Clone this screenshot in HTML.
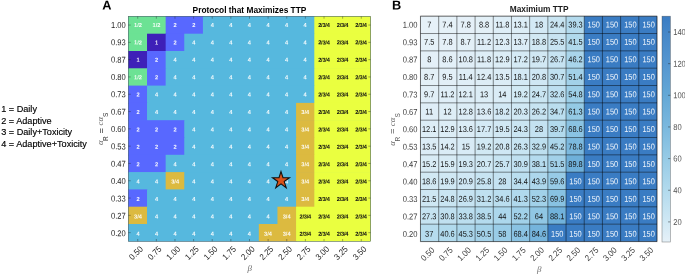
<!DOCTYPE html>
<html><head><meta charset="utf-8"><title>Figure</title>
<style>
html,body{margin:0;padding:0;background:#fff}
svg{display:block}
text{font-family:"Liberation Sans",Arial,sans-serif}
</style></head><body>
<svg width="685" height="274" viewBox="0 0 685 274">
<rect width="685" height="274" fill="#fff"/>
<g>
<rect x="128.4" y="16.4" width="242.2" height="224.9" fill="#56B8DE"/>
<rect x="128.4" y="16.4" width="37.86" height="17.9" fill="#6CE294"/>
<rect x="165.66" y="16.4" width="37.86" height="17.9" fill="#5868FF"/>
<rect x="202.92" y="16.4" width="111.98" height="17.9" fill="#56B8DE"/>
<rect x="314.3" y="16.4" width="56.3" height="17.9" fill="#EAFF40"/>
<rect x="128.4" y="33.7" width="19.23" height="17.9" fill="#6CE294"/>
<rect x="147.03" y="33.7" width="19.23" height="17.9" fill="#3E20B8"/>
<rect x="165.66" y="33.7" width="19.23" height="17.9" fill="#5868FF"/>
<rect x="184.29" y="33.7" width="130.61" height="17.9" fill="#56B8DE"/>
<rect x="314.3" y="33.7" width="56.3" height="17.9" fill="#EAFF40"/>
<rect x="128.4" y="51" width="19.23" height="17.9" fill="#3E20B8"/>
<rect x="147.03" y="51" width="19.23" height="17.9" fill="#5868FF"/>
<rect x="165.66" y="51" width="149.24" height="17.9" fill="#56B8DE"/>
<rect x="314.3" y="51" width="56.3" height="17.9" fill="#EAFF40"/>
<rect x="128.4" y="68.3" width="19.23" height="17.9" fill="#6CE294"/>
<rect x="147.03" y="68.3" width="19.23" height="17.9" fill="#5868FF"/>
<rect x="165.66" y="68.3" width="149.24" height="17.9" fill="#56B8DE"/>
<rect x="314.3" y="68.3" width="56.3" height="17.9" fill="#EAFF40"/>
<rect x="128.4" y="85.6" width="19.23" height="17.9" fill="#5868FF"/>
<rect x="147.03" y="85.6" width="167.87" height="17.9" fill="#56B8DE"/>
<rect x="314.3" y="85.6" width="56.3" height="17.9" fill="#EAFF40"/>
<rect x="128.4" y="102.9" width="19.23" height="17.9" fill="#5868FF"/>
<rect x="147.03" y="102.9" width="149.65" height="17.9" fill="#56B8DE"/>
<rect x="296.08" y="102.9" width="18.82" height="17.9" fill="#DCBA40"/>
<rect x="314.3" y="102.9" width="56.3" height="17.9" fill="#EAFF40"/>
<rect x="128.4" y="120.2" width="56.49" height="17.9" fill="#5868FF"/>
<rect x="184.29" y="120.2" width="112.38" height="17.9" fill="#56B8DE"/>
<rect x="296.08" y="120.2" width="18.82" height="17.9" fill="#DCBA40"/>
<rect x="314.3" y="120.2" width="56.3" height="17.9" fill="#EAFF40"/>
<rect x="128.4" y="137.5" width="56.49" height="17.9" fill="#5868FF"/>
<rect x="184.29" y="137.5" width="112.38" height="17.9" fill="#56B8DE"/>
<rect x="296.08" y="137.5" width="18.82" height="17.9" fill="#DCBA40"/>
<rect x="314.3" y="137.5" width="56.3" height="17.9" fill="#EAFF40"/>
<rect x="128.4" y="154.8" width="37.86" height="17.9" fill="#5868FF"/>
<rect x="165.66" y="154.8" width="131.02" height="17.9" fill="#56B8DE"/>
<rect x="296.08" y="154.8" width="18.82" height="17.9" fill="#DCBA40"/>
<rect x="314.3" y="154.8" width="56.3" height="17.9" fill="#EAFF40"/>
<rect x="128.4" y="172.1" width="37.86" height="17.9" fill="#56B8DE"/>
<rect x="165.66" y="172.1" width="19.23" height="17.9" fill="#DCBA40"/>
<rect x="184.29" y="172.1" width="112.38" height="17.9" fill="#56B8DE"/>
<rect x="296.08" y="172.1" width="18.82" height="17.9" fill="#DCBA40"/>
<rect x="314.3" y="172.1" width="56.3" height="17.9" fill="#EAFF40"/>
<rect x="128.4" y="189.4" width="19.23" height="17.9" fill="#5868FF"/>
<rect x="147.03" y="189.4" width="149.65" height="17.9" fill="#56B8DE"/>
<rect x="296.08" y="189.4" width="18.82" height="17.9" fill="#DCBA40"/>
<rect x="314.3" y="189.4" width="56.3" height="17.9" fill="#EAFF40"/>
<rect x="128.4" y="206.7" width="19.23" height="17.9" fill="#DCBA40"/>
<rect x="147.03" y="206.7" width="131.02" height="17.9" fill="#56B8DE"/>
<rect x="277.45" y="206.7" width="19.23" height="17.9" fill="#DCBA40"/>
<rect x="296.08" y="206.7" width="74.52" height="17.9" fill="#EAFF40"/>
<rect x="128.4" y="224" width="131.02" height="17.3" fill="#56B8DE"/>
<rect x="258.82" y="224" width="37.86" height="17.3" fill="#DCBA40"/>
<rect x="296.08" y="224" width="74.52" height="17.3" fill="#EAFF40"/>
</g>
<rect x="128.4" y="16.4" width="242.2" height="224.9" fill="none" stroke="#262626" stroke-opacity="0.75" stroke-width="0.5"/>
<g stroke="#262626" stroke-opacity="0.8" stroke-width="0.5">
<path d="M137.72 241.3v-2.3M137.72 16.4v2.3M128.4 25.05h2.3M370.6 25.05h-2.3"/>
<path d="M156.35 241.3v-2.3M156.35 16.4v2.3M128.4 42.35h2.3M370.6 42.35h-2.3"/>
<path d="M174.98 241.3v-2.3M174.98 16.4v2.3M128.4 59.65h2.3M370.6 59.65h-2.3"/>
<path d="M193.61 241.3v-2.3M193.61 16.4v2.3M128.4 76.95h2.3M370.6 76.95h-2.3"/>
<path d="M212.24 241.3v-2.3M212.24 16.4v2.3M128.4 94.25h2.3M370.6 94.25h-2.3"/>
<path d="M230.87 241.3v-2.3M230.87 16.4v2.3M128.4 111.55h2.3M370.6 111.55h-2.3"/>
<path d="M249.5 241.3v-2.3M249.5 16.4v2.3M128.4 128.85h2.3M370.6 128.85h-2.3"/>
<path d="M268.13 241.3v-2.3M268.13 16.4v2.3M128.4 146.15h2.3M370.6 146.15h-2.3"/>
<path d="M286.76 241.3v-2.3M286.76 16.4v2.3M128.4 163.45h2.3M370.6 163.45h-2.3"/>
<path d="M305.39 241.3v-2.3M305.39 16.4v2.3M128.4 180.75h2.3M370.6 180.75h-2.3"/>
<path d="M324.02 241.3v-2.3M324.02 16.4v2.3M128.4 198.05h2.3M370.6 198.05h-2.3"/>
<path d="M342.65 241.3v-2.3M342.65 16.4v2.3M128.4 215.35h2.3M370.6 215.35h-2.3"/>
<path d="M361.28 241.3v-2.3M361.28 16.4v2.3M128.4 232.65h2.3M370.6 232.65h-2.3"/>
</g>
<g font-size="5.7" font-weight="bold" text-anchor="middle" fill="#fff" fill-opacity="0.92">
<text transform="translate(138 26.98) rotate(0.1)">1/2</text>
<text transform="translate(156.57 26.98) rotate(0.1)">1/2</text>
<text transform="translate(175.15 26.98) rotate(0.1)">2</text>
<text transform="translate(193.72 26.98) rotate(0.1)">2</text>
<text transform="translate(212.3 26.98) rotate(0.1)">4</text>
<text transform="translate(230.88 26.98) rotate(0.1)">4</text>
<text transform="translate(249.45 26.98) rotate(0.1)">4</text>
<text transform="translate(268.02 26.98) rotate(0.1)">4</text>
<text transform="translate(286.6 26.98) rotate(0.1)">4</text>
<text transform="translate(305.17 26.98) rotate(0.1)">4</text>
<text transform="translate(323.85 26.98) rotate(0.1)" fill="#111" fill-opacity="1" letter-spacing="-0.25">2/3/4</text>
<text transform="translate(342.43 26.98) rotate(0.1)" fill="#111" fill-opacity="1" letter-spacing="-0.25">2/3/4</text>
<text transform="translate(361 26.98) rotate(0.1)" fill="#111" fill-opacity="1" letter-spacing="-0.25">2/3/4</text>
<text transform="translate(138 44.38) rotate(0.1)">1/2</text>
<text transform="translate(156.57 44.38) rotate(0.1)">1</text>
<text transform="translate(175.15 44.38) rotate(0.1)">2</text>
<text transform="translate(193.72 44.38) rotate(0.1)">4</text>
<text transform="translate(212.3 44.38) rotate(0.1)">4</text>
<text transform="translate(230.88 44.38) rotate(0.1)">4</text>
<text transform="translate(249.45 44.38) rotate(0.1)">4</text>
<text transform="translate(268.02 44.38) rotate(0.1)">4</text>
<text transform="translate(286.6 44.38) rotate(0.1)">4</text>
<text transform="translate(305.17 44.38) rotate(0.1)">4</text>
<text transform="translate(323.85 44.38) rotate(0.1)" fill="#111" fill-opacity="1" letter-spacing="-0.25">2/3/4</text>
<text transform="translate(342.43 44.38) rotate(0.1)" fill="#111" fill-opacity="1" letter-spacing="-0.25">2/3/4</text>
<text transform="translate(361 44.38) rotate(0.1)" fill="#111" fill-opacity="1" letter-spacing="-0.25">2/3/4</text>
<text transform="translate(138 61.79) rotate(0.1)">1</text>
<text transform="translate(156.57 61.79) rotate(0.1)">2</text>
<text transform="translate(175.15 61.79) rotate(0.1)">4</text>
<text transform="translate(193.72 61.79) rotate(0.1)">4</text>
<text transform="translate(212.3 61.79) rotate(0.1)">4</text>
<text transform="translate(230.88 61.79) rotate(0.1)">4</text>
<text transform="translate(249.45 61.79) rotate(0.1)">4</text>
<text transform="translate(268.02 61.79) rotate(0.1)">4</text>
<text transform="translate(286.6 61.79) rotate(0.1)">4</text>
<text transform="translate(305.17 61.79) rotate(0.1)">4</text>
<text transform="translate(323.85 61.79) rotate(0.1)" fill="#111" fill-opacity="1" letter-spacing="-0.25">2/3/4</text>
<text transform="translate(342.43 61.79) rotate(0.1)" fill="#111" fill-opacity="1" letter-spacing="-0.25">2/3/4</text>
<text transform="translate(361 61.79) rotate(0.1)" fill="#111" fill-opacity="1" letter-spacing="-0.25">2/3/4</text>
<text transform="translate(138 79.2) rotate(0.1)">1/2</text>
<text transform="translate(156.57 79.2) rotate(0.1)">2</text>
<text transform="translate(175.15 79.2) rotate(0.1)">4</text>
<text transform="translate(193.72 79.2) rotate(0.1)">4</text>
<text transform="translate(212.3 79.2) rotate(0.1)">4</text>
<text transform="translate(230.88 79.2) rotate(0.1)">4</text>
<text transform="translate(249.45 79.2) rotate(0.1)">4</text>
<text transform="translate(268.02 79.2) rotate(0.1)">4</text>
<text transform="translate(286.6 79.2) rotate(0.1)">4</text>
<text transform="translate(305.17 79.2) rotate(0.1)">4</text>
<text transform="translate(323.85 79.2) rotate(0.1)" fill="#111" fill-opacity="1" letter-spacing="-0.25">2/3/4</text>
<text transform="translate(342.43 79.2) rotate(0.1)" fill="#111" fill-opacity="1" letter-spacing="-0.25">2/3/4</text>
<text transform="translate(361 79.2) rotate(0.1)" fill="#111" fill-opacity="1" letter-spacing="-0.25">2/3/4</text>
<text transform="translate(138 96.6) rotate(0.1)">2</text>
<text transform="translate(156.57 96.6) rotate(0.1)">4</text>
<text transform="translate(175.15 96.6) rotate(0.1)">4</text>
<text transform="translate(193.72 96.6) rotate(0.1)">4</text>
<text transform="translate(212.3 96.6) rotate(0.1)">4</text>
<text transform="translate(230.88 96.6) rotate(0.1)">4</text>
<text transform="translate(249.45 96.6) rotate(0.1)">4</text>
<text transform="translate(268.02 96.6) rotate(0.1)">4</text>
<text transform="translate(286.6 96.6) rotate(0.1)">4</text>
<text transform="translate(305.17 96.6) rotate(0.1)">4</text>
<text transform="translate(323.85 96.6) rotate(0.1)" fill="#111" fill-opacity="1" letter-spacing="-0.25">2/3/4</text>
<text transform="translate(342.43 96.6) rotate(0.1)" fill="#111" fill-opacity="1" letter-spacing="-0.25">2/3/4</text>
<text transform="translate(361 96.6) rotate(0.1)" fill="#111" fill-opacity="1" letter-spacing="-0.25">2/3/4</text>
<text transform="translate(138 114.01) rotate(0.1)">2</text>
<text transform="translate(156.57 114.01) rotate(0.1)">4</text>
<text transform="translate(175.15 114.01) rotate(0.1)">4</text>
<text transform="translate(193.72 114.01) rotate(0.1)">4</text>
<text transform="translate(212.3 114.01) rotate(0.1)">4</text>
<text transform="translate(230.88 114.01) rotate(0.1)">4</text>
<text transform="translate(249.45 114.01) rotate(0.1)">4</text>
<text transform="translate(268.02 114.01) rotate(0.1)">4</text>
<text transform="translate(286.6 114.01) rotate(0.1)">4</text>
<text transform="translate(305.17 114.01) rotate(0.1)">3/4</text>
<text transform="translate(323.85 114.01) rotate(0.1)" fill="#111" fill-opacity="1" letter-spacing="-0.25">2/3/4</text>
<text transform="translate(342.43 114.01) rotate(0.1)" fill="#111" fill-opacity="1" letter-spacing="-0.25">2/3/4</text>
<text transform="translate(361 114.01) rotate(0.1)" fill="#111" fill-opacity="1" letter-spacing="-0.25">2/3/4</text>
<text transform="translate(138 131.41) rotate(0.1)">2</text>
<text transform="translate(156.57 131.41) rotate(0.1)">2</text>
<text transform="translate(175.15 131.41) rotate(0.1)">2</text>
<text transform="translate(193.72 131.41) rotate(0.1)">4</text>
<text transform="translate(212.3 131.41) rotate(0.1)">4</text>
<text transform="translate(230.88 131.41) rotate(0.1)">4</text>
<text transform="translate(249.45 131.41) rotate(0.1)">4</text>
<text transform="translate(268.02 131.41) rotate(0.1)">4</text>
<text transform="translate(286.6 131.41) rotate(0.1)">4</text>
<text transform="translate(305.17 131.41) rotate(0.1)">3/4</text>
<text transform="translate(323.85 131.41) rotate(0.1)" fill="#111" fill-opacity="1" letter-spacing="-0.25">2/3/4</text>
<text transform="translate(342.43 131.41) rotate(0.1)" fill="#111" fill-opacity="1" letter-spacing="-0.25">2/3/4</text>
<text transform="translate(361 131.41) rotate(0.1)" fill="#111" fill-opacity="1" letter-spacing="-0.25">2/3/4</text>
<text transform="translate(138 148.81) rotate(0.1)">2</text>
<text transform="translate(156.57 148.81) rotate(0.1)">2</text>
<text transform="translate(175.15 148.81) rotate(0.1)">2</text>
<text transform="translate(193.72 148.81) rotate(0.1)">4</text>
<text transform="translate(212.3 148.81) rotate(0.1)">4</text>
<text transform="translate(230.88 148.81) rotate(0.1)">4</text>
<text transform="translate(249.45 148.81) rotate(0.1)">4</text>
<text transform="translate(268.02 148.81) rotate(0.1)">4</text>
<text transform="translate(286.6 148.81) rotate(0.1)">4</text>
<text transform="translate(305.17 148.81) rotate(0.1)">3/4</text>
<text transform="translate(323.85 148.81) rotate(0.1)" fill="#111" fill-opacity="1" letter-spacing="-0.25">2/3/4</text>
<text transform="translate(342.43 148.81) rotate(0.1)" fill="#111" fill-opacity="1" letter-spacing="-0.25">2/3/4</text>
<text transform="translate(361 148.81) rotate(0.1)" fill="#111" fill-opacity="1" letter-spacing="-0.25">2/3/4</text>
<text transform="translate(138 166.22) rotate(0.1)">2</text>
<text transform="translate(156.57 166.22) rotate(0.1)">2</text>
<text transform="translate(175.15 166.22) rotate(0.1)">4</text>
<text transform="translate(193.72 166.22) rotate(0.1)">4</text>
<text transform="translate(212.3 166.22) rotate(0.1)">4</text>
<text transform="translate(230.88 166.22) rotate(0.1)">4</text>
<text transform="translate(249.45 166.22) rotate(0.1)">4</text>
<text transform="translate(268.02 166.22) rotate(0.1)">4</text>
<text transform="translate(286.6 166.22) rotate(0.1)">4</text>
<text transform="translate(305.17 166.22) rotate(0.1)">3/4</text>
<text transform="translate(323.85 166.22) rotate(0.1)" fill="#111" fill-opacity="1" letter-spacing="-0.25">2/3/4</text>
<text transform="translate(342.43 166.22) rotate(0.1)" fill="#111" fill-opacity="1" letter-spacing="-0.25">2/3/4</text>
<text transform="translate(361 166.22) rotate(0.1)" fill="#111" fill-opacity="1" letter-spacing="-0.25">2/3/4</text>
<text transform="translate(138 183.62) rotate(0.1)">4</text>
<text transform="translate(156.57 183.62) rotate(0.1)">4</text>
<text transform="translate(175.15 183.62) rotate(0.1)">3/4</text>
<text transform="translate(193.72 183.62) rotate(0.1)">4</text>
<text transform="translate(212.3 183.62) rotate(0.1)">4</text>
<text transform="translate(230.88 183.62) rotate(0.1)">4</text>
<text transform="translate(249.45 183.62) rotate(0.1)">4</text>
<text transform="translate(268.02 183.62) rotate(0.1)">4</text>
<text transform="translate(286.6 183.62) rotate(0.1)">4</text>
<text transform="translate(305.17 183.62) rotate(0.1)">3/4</text>
<text transform="translate(323.85 183.62) rotate(0.1)" fill="#111" fill-opacity="1" letter-spacing="-0.25">2/3/4</text>
<text transform="translate(342.43 183.62) rotate(0.1)" fill="#111" fill-opacity="1" letter-spacing="-0.25">2/3/4</text>
<text transform="translate(361 183.62) rotate(0.1)" fill="#111" fill-opacity="1" letter-spacing="-0.25">2/3/4</text>
<text transform="translate(138 201.03) rotate(0.1)">2</text>
<text transform="translate(156.57 201.03) rotate(0.1)">4</text>
<text transform="translate(175.15 201.03) rotate(0.1)">4</text>
<text transform="translate(193.72 201.03) rotate(0.1)">4</text>
<text transform="translate(212.3 201.03) rotate(0.1)">4</text>
<text transform="translate(230.88 201.03) rotate(0.1)">4</text>
<text transform="translate(249.45 201.03) rotate(0.1)">4</text>
<text transform="translate(268.02 201.03) rotate(0.1)">4</text>
<text transform="translate(286.6 201.03) rotate(0.1)">4</text>
<text transform="translate(305.17 201.03) rotate(0.1)">3/4</text>
<text transform="translate(323.85 201.03) rotate(0.1)" fill="#111" fill-opacity="1" letter-spacing="-0.25">2/3/4</text>
<text transform="translate(342.43 201.03) rotate(0.1)" fill="#111" fill-opacity="1" letter-spacing="-0.25">2/3/4</text>
<text transform="translate(361 201.03) rotate(0.1)" fill="#111" fill-opacity="1" letter-spacing="-0.25">2/3/4</text>
<text transform="translate(138 218.44) rotate(0.1)">3/4</text>
<text transform="translate(156.57 218.44) rotate(0.1)">4</text>
<text transform="translate(175.15 218.44) rotate(0.1)">4</text>
<text transform="translate(193.72 218.44) rotate(0.1)">4</text>
<text transform="translate(212.3 218.44) rotate(0.1)">4</text>
<text transform="translate(230.88 218.44) rotate(0.1)">4</text>
<text transform="translate(249.45 218.44) rotate(0.1)">4</text>
<text transform="translate(268.02 218.44) rotate(0.1)">4</text>
<text transform="translate(286.6 218.44) rotate(0.1)">3/4</text>
<text transform="translate(305.27 218.44) rotate(0.1)" fill="#111" fill-opacity="1" letter-spacing="-0.25">2/3/4</text>
<text transform="translate(323.85 218.44) rotate(0.1)" fill="#111" fill-opacity="1" letter-spacing="-0.25">2/3/4</text>
<text transform="translate(342.43 218.44) rotate(0.1)" fill="#111" fill-opacity="1" letter-spacing="-0.25">2/3/4</text>
<text transform="translate(361 218.44) rotate(0.1)" fill="#111" fill-opacity="1" letter-spacing="-0.25">2/3/4</text>
<text transform="translate(138 235.84) rotate(0.1)">4</text>
<text transform="translate(156.57 235.84) rotate(0.1)">4</text>
<text transform="translate(175.15 235.84) rotate(0.1)">4</text>
<text transform="translate(193.72 235.84) rotate(0.1)">4</text>
<text transform="translate(212.3 235.84) rotate(0.1)">4</text>
<text transform="translate(230.88 235.84) rotate(0.1)">4</text>
<text transform="translate(249.45 235.84) rotate(0.1)">4</text>
<text transform="translate(268.02 235.84) rotate(0.1)">3/4</text>
<text transform="translate(286.6 235.84) rotate(0.1)">3/4</text>
<text transform="translate(305.27 235.84) rotate(0.1)" fill="#111" fill-opacity="1" letter-spacing="-0.25">2/3/4</text>
<text transform="translate(323.85 235.84) rotate(0.1)" fill="#111" fill-opacity="1" letter-spacing="-0.25">2/3/4</text>
<text transform="translate(342.43 235.84) rotate(0.1)" fill="#111" fill-opacity="1" letter-spacing="-0.25">2/3/4</text>
<text transform="translate(361 235.84) rotate(0.1)" fill="#111" fill-opacity="1" letter-spacing="-0.25">2/3/4</text>
</g>
<polygon points="281,171.6 283,177.75 289.46,177.75 284.23,181.55 286.23,187.7 281,183.9 275.77,187.7 277.77,181.55 272.54,177.75 279,177.75" fill="#D8521B" stroke="#111" stroke-width="1.1" stroke-linejoin="miter"/>
<g>
<rect x="420.5" y="16.2" width="18.79" height="17.93" fill="#e6f1f8"/>
<rect x="438.69" y="16.2" width="18.79" height="17.93" fill="#e5f1f8"/>
<rect x="456.88" y="16.2" width="18.79" height="17.93" fill="#e5f0f8"/>
<rect x="475.08" y="16.2" width="18.79" height="17.93" fill="#e3f0f7"/>
<rect x="493.27" y="16.2" width="18.79" height="17.93" fill="#deeef7"/>
<rect x="511.46" y="16.2" width="18.79" height="17.93" fill="#dcedf6"/>
<rect x="529.65" y="16.2" width="18.79" height="17.93" fill="#d3e9f5"/>
<rect x="547.85" y="16.2" width="18.79" height="17.93" fill="#c9e5f2"/>
<rect x="566.04" y="16.2" width="18.79" height="17.93" fill="#b3daed"/>
<rect x="584.23" y="16.2" width="72.77" height="17.93" fill="#3a7cc3"/>
<rect x="420.5" y="33.53" width="18.79" height="17.93" fill="#e5f1f8"/>
<rect x="438.69" y="33.53" width="18.79" height="17.93" fill="#e5f0f8"/>
<rect x="456.88" y="33.53" width="18.79" height="17.93" fill="#e3f0f7"/>
<rect x="475.08" y="33.53" width="18.79" height="17.93" fill="#dfeef7"/>
<rect x="493.27" y="33.53" width="18.79" height="17.93" fill="#ddedf6"/>
<rect x="511.46" y="33.53" width="18.79" height="17.93" fill="#dbecf6"/>
<rect x="529.65" y="33.53" width="18.79" height="17.93" fill="#d2e9f4"/>
<rect x="547.85" y="33.53" width="18.79" height="17.93" fill="#c8e4f2"/>
<rect x="566.04" y="33.53" width="18.79" height="17.93" fill="#b0d9ec"/>
<rect x="584.23" y="33.53" width="72.77" height="17.93" fill="#3a7cc3"/>
<rect x="420.5" y="50.86" width="18.79" height="17.93" fill="#e4f0f8"/>
<rect x="438.69" y="50.86" width="18.79" height="17.93" fill="#e3f0f8"/>
<rect x="456.88" y="50.86" width="18.79" height="17.93" fill="#e0eef7"/>
<rect x="475.08" y="50.86" width="18.79" height="17.93" fill="#deeef7"/>
<rect x="493.27" y="50.86" width="18.79" height="17.93" fill="#dcedf6"/>
<rect x="511.46" y="50.86" width="18.79" height="17.93" fill="#d5eaf5"/>
<rect x="529.65" y="50.86" width="18.79" height="17.93" fill="#d1e8f4"/>
<rect x="547.85" y="50.86" width="18.79" height="17.93" fill="#c6e3f2"/>
<rect x="566.04" y="50.86" width="18.79" height="17.93" fill="#a9d5eb"/>
<rect x="584.23" y="50.86" width="72.77" height="17.93" fill="#3a7cc3"/>
<rect x="420.5" y="68.19" width="18.79" height="17.93" fill="#e3f0f7"/>
<rect x="438.69" y="68.19" width="18.79" height="17.93" fill="#e2eff7"/>
<rect x="456.88" y="68.19" width="18.79" height="17.93" fill="#dfeef7"/>
<rect x="475.08" y="68.19" width="18.79" height="17.93" fill="#ddedf6"/>
<rect x="493.27" y="68.19" width="18.79" height="17.93" fill="#dbecf6"/>
<rect x="511.46" y="68.19" width="18.79" height="17.93" fill="#d3e9f5"/>
<rect x="529.65" y="68.19" width="18.79" height="17.93" fill="#cfe7f4"/>
<rect x="547.85" y="68.19" width="18.79" height="17.93" fill="#c0e1f0"/>
<rect x="566.04" y="68.19" width="18.79" height="17.93" fill="#a2d1e9"/>
<rect x="584.23" y="68.19" width="72.77" height="17.93" fill="#3a7cc3"/>
<rect x="420.5" y="85.52" width="18.79" height="17.93" fill="#e1eff7"/>
<rect x="438.69" y="85.52" width="18.79" height="17.93" fill="#dfeef7"/>
<rect x="456.88" y="85.52" width="18.79" height="17.93" fill="#ddedf6"/>
<rect x="475.08" y="85.52" width="18.79" height="17.93" fill="#dcedf6"/>
<rect x="493.27" y="85.52" width="18.79" height="17.93" fill="#daecf6"/>
<rect x="511.46" y="85.52" width="18.79" height="17.93" fill="#d1e9f4"/>
<rect x="529.65" y="85.52" width="18.79" height="17.93" fill="#c9e5f2"/>
<rect x="547.85" y="85.52" width="18.79" height="17.93" fill="#bddff0"/>
<rect x="566.04" y="85.52" width="18.79" height="17.93" fill="#9dcfe8"/>
<rect x="584.23" y="85.52" width="72.77" height="17.93" fill="#3a7cc3"/>
<rect x="420.5" y="102.85" width="18.79" height="17.93" fill="#dfeef7"/>
<rect x="438.69" y="102.85" width="18.79" height="17.93" fill="#deeef6"/>
<rect x="456.88" y="102.85" width="18.79" height="17.93" fill="#dcedf6"/>
<rect x="475.08" y="102.85" width="18.79" height="17.93" fill="#dbecf6"/>
<rect x="493.27" y="102.85" width="18.79" height="17.93" fill="#d3e9f5"/>
<rect x="511.46" y="102.85" width="18.79" height="17.93" fill="#d0e8f4"/>
<rect x="529.65" y="102.85" width="18.79" height="17.93" fill="#c7e4f2"/>
<rect x="547.85" y="102.85" width="18.79" height="17.93" fill="#badeef"/>
<rect x="566.04" y="102.85" width="18.79" height="17.93" fill="#94cae5"/>
<rect x="584.23" y="102.85" width="72.77" height="17.93" fill="#3a7cc3"/>
<rect x="420.5" y="120.18" width="18.79" height="17.93" fill="#ddedf6"/>
<rect x="438.69" y="120.18" width="18.79" height="17.93" fill="#dcedf6"/>
<rect x="456.88" y="120.18" width="18.79" height="17.93" fill="#dbecf6"/>
<rect x="475.08" y="120.18" width="18.79" height="17.93" fill="#d4eaf5"/>
<rect x="493.27" y="120.18" width="18.79" height="17.93" fill="#d1e8f4"/>
<rect x="511.46" y="120.18" width="18.79" height="17.93" fill="#cae5f2"/>
<rect x="529.65" y="120.18" width="18.79" height="17.93" fill="#c4e2f1"/>
<rect x="547.85" y="120.18" width="18.79" height="17.93" fill="#b2daed"/>
<rect x="566.04" y="120.18" width="18.79" height="17.93" fill="#8ac3e3"/>
<rect x="584.23" y="120.18" width="72.77" height="17.93" fill="#3a7cc3"/>
<rect x="420.5" y="137.52" width="18.79" height="17.93" fill="#dbecf6"/>
<rect x="438.69" y="137.52" width="18.79" height="17.93" fill="#daecf6"/>
<rect x="456.88" y="137.52" width="18.79" height="17.93" fill="#d8ebf6"/>
<rect x="475.08" y="137.52" width="18.79" height="17.93" fill="#d1e9f4"/>
<rect x="493.27" y="137.52" width="18.79" height="17.93" fill="#cfe7f4"/>
<rect x="511.46" y="137.52" width="18.79" height="17.93" fill="#c7e4f2"/>
<rect x="529.65" y="137.52" width="18.79" height="17.93" fill="#bddfef"/>
<rect x="547.85" y="137.52" width="18.79" height="17.93" fill="#abd6eb"/>
<rect x="566.04" y="137.52" width="18.79" height="17.93" fill="#7cb9de"/>
<rect x="584.23" y="137.52" width="72.77" height="17.93" fill="#3a7cc3"/>
<rect x="420.5" y="154.85" width="18.79" height="17.93" fill="#d8ebf5"/>
<rect x="438.69" y="154.85" width="18.79" height="17.93" fill="#d7ebf5"/>
<rect x="456.88" y="154.85" width="18.79" height="17.93" fill="#d1e8f4"/>
<rect x="475.08" y="154.85" width="18.79" height="17.93" fill="#cfe8f4"/>
<rect x="493.27" y="154.85" width="18.79" height="17.93" fill="#c7e4f2"/>
<rect x="511.46" y="154.85" width="18.79" height="17.93" fill="#c0e0f0"/>
<rect x="529.65" y="154.85" width="18.79" height="17.93" fill="#b5dbee"/>
<rect x="547.85" y="154.85" width="18.79" height="17.93" fill="#a2d1e9"/>
<rect x="566.04" y="154.85" width="18.79" height="17.93" fill="#6fb0da"/>
<rect x="584.23" y="154.85" width="72.77" height="17.93" fill="#3a7cc3"/>
<rect x="420.5" y="172.18" width="18.79" height="17.93" fill="#d2e9f4"/>
<rect x="438.69" y="172.18" width="18.79" height="17.93" fill="#d0e8f4"/>
<rect x="456.88" y="172.18" width="18.79" height="17.93" fill="#cfe7f4"/>
<rect x="475.08" y="172.18" width="18.79" height="17.93" fill="#c7e4f2"/>
<rect x="493.27" y="172.18" width="18.79" height="17.93" fill="#c4e2f1"/>
<rect x="511.46" y="172.18" width="18.79" height="17.93" fill="#badeef"/>
<rect x="529.65" y="172.18" width="18.79" height="17.93" fill="#add7ec"/>
<rect x="547.85" y="172.18" width="18.79" height="17.93" fill="#97cbe6"/>
<rect x="566.04" y="172.18" width="90.96" height="17.93" fill="#3a7cc3"/>
<rect x="420.5" y="189.51" width="18.79" height="17.93" fill="#cee7f3"/>
<rect x="438.69" y="189.51" width="18.79" height="17.93" fill="#c9e5f2"/>
<rect x="456.88" y="189.51" width="18.79" height="17.93" fill="#c6e3f2"/>
<rect x="475.08" y="189.51" width="18.79" height="17.93" fill="#bfe0f0"/>
<rect x="493.27" y="189.51" width="18.79" height="17.93" fill="#badeef"/>
<rect x="511.46" y="189.51" width="18.79" height="17.93" fill="#b0d9ed"/>
<rect x="529.65" y="189.51" width="18.79" height="17.93" fill="#a1d1e9"/>
<rect x="547.85" y="189.51" width="18.79" height="17.93" fill="#88c2e2"/>
<rect x="566.04" y="189.51" width="90.96" height="17.93" fill="#3a7cc3"/>
<rect x="420.5" y="206.84" width="18.79" height="17.93" fill="#c5e3f1"/>
<rect x="438.69" y="206.84" width="18.79" height="17.93" fill="#c0e0f0"/>
<rect x="456.88" y="206.84" width="18.79" height="17.93" fill="#bbdeef"/>
<rect x="475.08" y="206.84" width="18.79" height="17.93" fill="#b4dbee"/>
<rect x="493.27" y="206.84" width="18.79" height="17.93" fill="#acd7ec"/>
<rect x="511.46" y="206.84" width="18.79" height="17.93" fill="#a1d1e9"/>
<rect x="529.65" y="206.84" width="18.79" height="17.93" fill="#90c7e4"/>
<rect x="547.85" y="206.84" width="18.79" height="17.93" fill="#71b2db"/>
<rect x="566.04" y="206.84" width="90.96" height="17.93" fill="#3a7cc3"/>
<rect x="420.5" y="224.17" width="18.79" height="17.33" fill="#b6dcee"/>
<rect x="438.69" y="224.17" width="18.79" height="17.33" fill="#b1daed"/>
<rect x="456.88" y="224.17" width="18.79" height="17.33" fill="#abd6eb"/>
<rect x="475.08" y="224.17" width="18.79" height="17.33" fill="#a3d2e9"/>
<rect x="493.27" y="224.17" width="18.79" height="17.33" fill="#99cce7"/>
<rect x="511.46" y="224.17" width="18.79" height="17.33" fill="#8ac3e3"/>
<rect x="529.65" y="224.17" width="18.79" height="17.33" fill="#75b4dc"/>
<rect x="547.85" y="224.17" width="109.15" height="17.33" fill="#3a7cc3"/>
</g>
<g stroke="#000" stroke-opacity="0.66" stroke-width="0.7" fill="none">
<path d="M420.5 16.2V241.5M420.5 16.2H657M438.69 16.2V241.5M420.5 33.53H657M456.88 16.2V241.5M420.5 50.86H657M475.08 16.2V241.5M420.5 68.19H657M493.27 16.2V241.5M420.5 85.52H657M511.46 16.2V241.5M420.5 102.85H657M529.65 16.2V241.5M420.5 120.18H657M547.85 16.2V241.5M420.5 137.52H657M566.04 16.2V241.5M420.5 154.85H657M584.23 16.2V241.5M420.5 172.18H657M602.42 16.2V241.5M420.5 189.51H657M620.62 16.2V241.5M420.5 206.84H657M638.81 16.2V241.5M420.5 224.17H657M657 16.2V241.5M420.5 241.5H657"/>
</g>
<rect x="420.4" y="16.1" width="236.7" height="225.6" fill="none" stroke="#000" stroke-opacity="0.22" stroke-width="1"/>
<g font-size="8.5" text-anchor="middle">
<text transform="translate(429.2 27.39) rotate(0.1) scale(0.875 1)" fill="#141414">7</text>
<text transform="translate(447.49 27.39) rotate(0.1) scale(0.875 1)" fill="#141414">7.4</text>
<text transform="translate(465.77 27.39) rotate(0.1) scale(0.875 1)" fill="#141414">7.8</text>
<text transform="translate(484.06 27.39) rotate(0.1) scale(0.875 1)" fill="#141414">8.8</text>
<text transform="translate(502.34 27.39) rotate(0.1) scale(0.875 1)" fill="#141414">11.8</text>
<text transform="translate(520.62 27.39) rotate(0.1) scale(0.875 1)" fill="#141414">13.1</text>
<text transform="translate(538.91 27.39) rotate(0.1) scale(0.875 1)" fill="#141414">18</text>
<text transform="translate(557.19 27.39) rotate(0.1) scale(0.875 1)" fill="#141414">24.4</text>
<text transform="translate(575.48 27.39) rotate(0.1) scale(0.875 1)" fill="#141414">39.3</text>
<text transform="translate(593.76 27.39) rotate(0.1) scale(0.875 1)" fill="#eef4fb">150</text>
<text transform="translate(612.05 27.39) rotate(0.1) scale(0.875 1)" fill="#eef4fb">150</text>
<text transform="translate(630.34 27.39) rotate(0.1) scale(0.875 1)" fill="#eef4fb">150</text>
<text transform="translate(648.62 27.39) rotate(0.1) scale(0.875 1)" fill="#eef4fb">150</text>
<text transform="translate(429.2 44.83) rotate(0.1) scale(0.875 1)" fill="#141414">7.5</text>
<text transform="translate(447.49 44.83) rotate(0.1) scale(0.875 1)" fill="#141414">7.8</text>
<text transform="translate(465.77 44.83) rotate(0.1) scale(0.875 1)" fill="#141414">8.7</text>
<text transform="translate(484.06 44.83) rotate(0.1) scale(0.875 1)" fill="#141414">11.2</text>
<text transform="translate(502.34 44.83) rotate(0.1) scale(0.875 1)" fill="#141414">12.3</text>
<text transform="translate(520.62 44.83) rotate(0.1) scale(0.875 1)" fill="#141414">13.7</text>
<text transform="translate(538.91 44.83) rotate(0.1) scale(0.875 1)" fill="#141414">18.8</text>
<text transform="translate(557.19 44.83) rotate(0.1) scale(0.875 1)" fill="#141414">25.5</text>
<text transform="translate(575.48 44.83) rotate(0.1) scale(0.875 1)" fill="#141414">41.5</text>
<text transform="translate(593.76 44.83) rotate(0.1) scale(0.875 1)" fill="#eef4fb">150</text>
<text transform="translate(612.05 44.83) rotate(0.1) scale(0.875 1)" fill="#eef4fb">150</text>
<text transform="translate(630.34 44.83) rotate(0.1) scale(0.875 1)" fill="#eef4fb">150</text>
<text transform="translate(648.62 44.83) rotate(0.1) scale(0.875 1)" fill="#eef4fb">150</text>
<text transform="translate(429.2 62.27) rotate(0.1) scale(0.875 1)" fill="#141414">8</text>
<text transform="translate(447.49 62.27) rotate(0.1) scale(0.875 1)" fill="#141414">8.6</text>
<text transform="translate(465.77 62.27) rotate(0.1) scale(0.875 1)" fill="#141414">10.8</text>
<text transform="translate(484.06 62.27) rotate(0.1) scale(0.875 1)" fill="#141414">11.8</text>
<text transform="translate(502.34 62.27) rotate(0.1) scale(0.875 1)" fill="#141414">12.9</text>
<text transform="translate(520.62 62.27) rotate(0.1) scale(0.875 1)" fill="#141414">17.2</text>
<text transform="translate(538.91 62.27) rotate(0.1) scale(0.875 1)" fill="#141414">19.7</text>
<text transform="translate(557.19 62.27) rotate(0.1) scale(0.875 1)" fill="#141414">26.7</text>
<text transform="translate(575.48 62.27) rotate(0.1) scale(0.875 1)" fill="#141414">46.2</text>
<text transform="translate(593.76 62.27) rotate(0.1) scale(0.875 1)" fill="#eef4fb">150</text>
<text transform="translate(612.05 62.27) rotate(0.1) scale(0.875 1)" fill="#eef4fb">150</text>
<text transform="translate(630.34 62.27) rotate(0.1) scale(0.875 1)" fill="#eef4fb">150</text>
<text transform="translate(648.62 62.27) rotate(0.1) scale(0.875 1)" fill="#eef4fb">150</text>
<text transform="translate(429.2 79.71) rotate(0.1) scale(0.875 1)" fill="#141414">8.7</text>
<text transform="translate(447.49 79.71) rotate(0.1) scale(0.875 1)" fill="#141414">9.5</text>
<text transform="translate(465.77 79.71) rotate(0.1) scale(0.875 1)" fill="#141414">11.4</text>
<text transform="translate(484.06 79.71) rotate(0.1) scale(0.875 1)" fill="#141414">12.4</text>
<text transform="translate(502.34 79.71) rotate(0.1) scale(0.875 1)" fill="#141414">13.5</text>
<text transform="translate(520.62 79.71) rotate(0.1) scale(0.875 1)" fill="#141414">18.1</text>
<text transform="translate(538.91 79.71) rotate(0.1) scale(0.875 1)" fill="#141414">20.8</text>
<text transform="translate(557.19 79.71) rotate(0.1) scale(0.875 1)" fill="#141414">30.7</text>
<text transform="translate(575.48 79.71) rotate(0.1) scale(0.875 1)" fill="#141414">51.4</text>
<text transform="translate(593.76 79.71) rotate(0.1) scale(0.875 1)" fill="#eef4fb">150</text>
<text transform="translate(612.05 79.71) rotate(0.1) scale(0.875 1)" fill="#eef4fb">150</text>
<text transform="translate(630.34 79.71) rotate(0.1) scale(0.875 1)" fill="#eef4fb">150</text>
<text transform="translate(648.62 79.71) rotate(0.1) scale(0.875 1)" fill="#eef4fb">150</text>
<text transform="translate(429.2 97.15) rotate(0.1) scale(0.875 1)" fill="#141414">9.7</text>
<text transform="translate(447.49 97.15) rotate(0.1) scale(0.875 1)" fill="#141414">11.2</text>
<text transform="translate(465.77 97.15) rotate(0.1) scale(0.875 1)" fill="#141414">12.1</text>
<text transform="translate(484.06 97.15) rotate(0.1) scale(0.875 1)" fill="#141414">13</text>
<text transform="translate(502.34 97.15) rotate(0.1) scale(0.875 1)" fill="#141414">14</text>
<text transform="translate(520.62 97.15) rotate(0.1) scale(0.875 1)" fill="#141414">19.2</text>
<text transform="translate(538.91 97.15) rotate(0.1) scale(0.875 1)" fill="#141414">24.7</text>
<text transform="translate(557.19 97.15) rotate(0.1) scale(0.875 1)" fill="#141414">32.6</text>
<text transform="translate(575.48 97.15) rotate(0.1) scale(0.875 1)" fill="#141414">54.8</text>
<text transform="translate(593.76 97.15) rotate(0.1) scale(0.875 1)" fill="#eef4fb">150</text>
<text transform="translate(612.05 97.15) rotate(0.1) scale(0.875 1)" fill="#eef4fb">150</text>
<text transform="translate(630.34 97.15) rotate(0.1) scale(0.875 1)" fill="#eef4fb">150</text>
<text transform="translate(648.62 97.15) rotate(0.1) scale(0.875 1)" fill="#eef4fb">150</text>
<text transform="translate(429.2 114.59) rotate(0.1) scale(0.875 1)" fill="#141414">11</text>
<text transform="translate(447.49 114.59) rotate(0.1) scale(0.875 1)" fill="#141414">12</text>
<text transform="translate(465.77 114.59) rotate(0.1) scale(0.875 1)" fill="#141414">12.8</text>
<text transform="translate(484.06 114.59) rotate(0.1) scale(0.875 1)" fill="#141414">13.6</text>
<text transform="translate(502.34 114.59) rotate(0.1) scale(0.875 1)" fill="#141414">18.2</text>
<text transform="translate(520.62 114.59) rotate(0.1) scale(0.875 1)" fill="#141414">20.3</text>
<text transform="translate(538.91 114.59) rotate(0.1) scale(0.875 1)" fill="#141414">26.2</text>
<text transform="translate(557.19 114.59) rotate(0.1) scale(0.875 1)" fill="#141414">34.7</text>
<text transform="translate(575.48 114.59) rotate(0.1) scale(0.875 1)" fill="#141414">61.3</text>
<text transform="translate(593.76 114.59) rotate(0.1) scale(0.875 1)" fill="#eef4fb">150</text>
<text transform="translate(612.05 114.59) rotate(0.1) scale(0.875 1)" fill="#eef4fb">150</text>
<text transform="translate(630.34 114.59) rotate(0.1) scale(0.875 1)" fill="#eef4fb">150</text>
<text transform="translate(648.62 114.59) rotate(0.1) scale(0.875 1)" fill="#eef4fb">150</text>
<text transform="translate(429.2 132.03) rotate(0.1) scale(0.875 1)" fill="#141414">12.1</text>
<text transform="translate(447.49 132.03) rotate(0.1) scale(0.875 1)" fill="#141414">12.9</text>
<text transform="translate(465.77 132.03) rotate(0.1) scale(0.875 1)" fill="#141414">13.6</text>
<text transform="translate(484.06 132.03) rotate(0.1) scale(0.875 1)" fill="#141414">17.7</text>
<text transform="translate(502.34 132.03) rotate(0.1) scale(0.875 1)" fill="#141414">19.5</text>
<text transform="translate(520.62 132.03) rotate(0.1) scale(0.875 1)" fill="#141414">24.3</text>
<text transform="translate(538.91 132.03) rotate(0.1) scale(0.875 1)" fill="#141414">28</text>
<text transform="translate(557.19 132.03) rotate(0.1) scale(0.875 1)" fill="#141414">39.7</text>
<text transform="translate(575.48 132.03) rotate(0.1) scale(0.875 1)" fill="#141414">68.6</text>
<text transform="translate(593.76 132.03) rotate(0.1) scale(0.875 1)" fill="#eef4fb">150</text>
<text transform="translate(612.05 132.03) rotate(0.1) scale(0.875 1)" fill="#eef4fb">150</text>
<text transform="translate(630.34 132.03) rotate(0.1) scale(0.875 1)" fill="#eef4fb">150</text>
<text transform="translate(648.62 132.03) rotate(0.1) scale(0.875 1)" fill="#eef4fb">150</text>
<text transform="translate(429.2 149.47) rotate(0.1) scale(0.875 1)" fill="#141414">13.5</text>
<text transform="translate(447.49 149.47) rotate(0.1) scale(0.875 1)" fill="#141414">14.2</text>
<text transform="translate(465.77 149.47) rotate(0.1) scale(0.875 1)" fill="#141414">15</text>
<text transform="translate(484.06 149.47) rotate(0.1) scale(0.875 1)" fill="#141414">19.2</text>
<text transform="translate(502.34 149.47) rotate(0.1) scale(0.875 1)" fill="#141414">20.8</text>
<text transform="translate(520.62 149.47) rotate(0.1) scale(0.875 1)" fill="#141414">26.3</text>
<text transform="translate(538.91 149.47) rotate(0.1) scale(0.875 1)" fill="#141414">32.9</text>
<text transform="translate(557.19 149.47) rotate(0.1) scale(0.875 1)" fill="#141414">45.2</text>
<text transform="translate(575.48 149.47) rotate(0.1) scale(0.875 1)" fill="#141414">78.8</text>
<text transform="translate(593.76 149.47) rotate(0.1) scale(0.875 1)" fill="#eef4fb">150</text>
<text transform="translate(612.05 149.47) rotate(0.1) scale(0.875 1)" fill="#eef4fb">150</text>
<text transform="translate(630.34 149.47) rotate(0.1) scale(0.875 1)" fill="#eef4fb">150</text>
<text transform="translate(648.62 149.47) rotate(0.1) scale(0.875 1)" fill="#eef4fb">150</text>
<text transform="translate(429.2 166.91) rotate(0.1) scale(0.875 1)" fill="#141414">15.2</text>
<text transform="translate(447.49 166.91) rotate(0.1) scale(0.875 1)" fill="#141414">15.9</text>
<text transform="translate(465.77 166.91) rotate(0.1) scale(0.875 1)" fill="#141414">19.3</text>
<text transform="translate(484.06 166.91) rotate(0.1) scale(0.875 1)" fill="#141414">20.7</text>
<text transform="translate(502.34 166.91) rotate(0.1) scale(0.875 1)" fill="#141414">25.7</text>
<text transform="translate(520.62 166.91) rotate(0.1) scale(0.875 1)" fill="#141414">30.9</text>
<text transform="translate(538.91 166.91) rotate(0.1) scale(0.875 1)" fill="#141414">38.1</text>
<text transform="translate(557.19 166.91) rotate(0.1) scale(0.875 1)" fill="#141414">51.5</text>
<text transform="translate(575.48 166.91) rotate(0.1) scale(0.875 1)" fill="#141414">89.8</text>
<text transform="translate(593.76 166.91) rotate(0.1) scale(0.875 1)" fill="#eef4fb">150</text>
<text transform="translate(612.05 166.91) rotate(0.1) scale(0.875 1)" fill="#eef4fb">150</text>
<text transform="translate(630.34 166.91) rotate(0.1) scale(0.875 1)" fill="#eef4fb">150</text>
<text transform="translate(648.62 166.91) rotate(0.1) scale(0.875 1)" fill="#eef4fb">150</text>
<text transform="translate(429.2 184.35) rotate(0.1) scale(0.875 1)" fill="#141414">18.6</text>
<text transform="translate(447.49 184.35) rotate(0.1) scale(0.875 1)" fill="#141414">19.9</text>
<text transform="translate(465.77 184.35) rotate(0.1) scale(0.875 1)" fill="#141414">20.9</text>
<text transform="translate(484.06 184.35) rotate(0.1) scale(0.875 1)" fill="#141414">25.8</text>
<text transform="translate(502.34 184.35) rotate(0.1) scale(0.875 1)" fill="#141414">28</text>
<text transform="translate(520.62 184.35) rotate(0.1) scale(0.875 1)" fill="#141414">34.4</text>
<text transform="translate(538.91 184.35) rotate(0.1) scale(0.875 1)" fill="#141414">43.9</text>
<text transform="translate(557.19 184.35) rotate(0.1) scale(0.875 1)" fill="#141414">59.6</text>
<text transform="translate(575.48 184.35) rotate(0.1) scale(0.875 1)" fill="#eef4fb">150</text>
<text transform="translate(593.76 184.35) rotate(0.1) scale(0.875 1)" fill="#eef4fb">150</text>
<text transform="translate(612.05 184.35) rotate(0.1) scale(0.875 1)" fill="#eef4fb">150</text>
<text transform="translate(630.34 184.35) rotate(0.1) scale(0.875 1)" fill="#eef4fb">150</text>
<text transform="translate(648.62 184.35) rotate(0.1) scale(0.875 1)" fill="#eef4fb">150</text>
<text transform="translate(429.2 201.79) rotate(0.1) scale(0.875 1)" fill="#141414">21.5</text>
<text transform="translate(447.49 201.79) rotate(0.1) scale(0.875 1)" fill="#141414">24.8</text>
<text transform="translate(465.77 201.79) rotate(0.1) scale(0.875 1)" fill="#141414">26.9</text>
<text transform="translate(484.06 201.79) rotate(0.1) scale(0.875 1)" fill="#141414">31.2</text>
<text transform="translate(502.34 201.79) rotate(0.1) scale(0.875 1)" fill="#141414">34.6</text>
<text transform="translate(520.62 201.79) rotate(0.1) scale(0.875 1)" fill="#141414">41.3</text>
<text transform="translate(538.91 201.79) rotate(0.1) scale(0.875 1)" fill="#141414">52.3</text>
<text transform="translate(557.19 201.79) rotate(0.1) scale(0.875 1)" fill="#141414">69.9</text>
<text transform="translate(575.48 201.79) rotate(0.1) scale(0.875 1)" fill="#eef4fb">150</text>
<text transform="translate(593.76 201.79) rotate(0.1) scale(0.875 1)" fill="#eef4fb">150</text>
<text transform="translate(612.05 201.79) rotate(0.1) scale(0.875 1)" fill="#eef4fb">150</text>
<text transform="translate(630.34 201.79) rotate(0.1) scale(0.875 1)" fill="#eef4fb">150</text>
<text transform="translate(648.62 201.79) rotate(0.1) scale(0.875 1)" fill="#eef4fb">150</text>
<text transform="translate(429.2 219.23) rotate(0.1) scale(0.875 1)" fill="#141414">27.3</text>
<text transform="translate(447.49 219.23) rotate(0.1) scale(0.875 1)" fill="#141414">30.8</text>
<text transform="translate(465.77 219.23) rotate(0.1) scale(0.875 1)" fill="#141414">33.8</text>
<text transform="translate(484.06 219.23) rotate(0.1) scale(0.875 1)" fill="#141414">38.5</text>
<text transform="translate(502.34 219.23) rotate(0.1) scale(0.875 1)" fill="#141414">44</text>
<text transform="translate(520.62 219.23) rotate(0.1) scale(0.875 1)" fill="#141414">52.2</text>
<text transform="translate(538.91 219.23) rotate(0.1) scale(0.875 1)" fill="#141414">64</text>
<text transform="translate(557.19 219.23) rotate(0.1) scale(0.875 1)" fill="#141414">88.1</text>
<text transform="translate(575.48 219.23) rotate(0.1) scale(0.875 1)" fill="#eef4fb">150</text>
<text transform="translate(593.76 219.23) rotate(0.1) scale(0.875 1)" fill="#eef4fb">150</text>
<text transform="translate(612.05 219.23) rotate(0.1) scale(0.875 1)" fill="#eef4fb">150</text>
<text transform="translate(630.34 219.23) rotate(0.1) scale(0.875 1)" fill="#eef4fb">150</text>
<text transform="translate(648.62 219.23) rotate(0.1) scale(0.875 1)" fill="#eef4fb">150</text>
<text transform="translate(429.2 236.67) rotate(0.1) scale(0.875 1)" fill="#141414">37</text>
<text transform="translate(447.49 236.67) rotate(0.1) scale(0.875 1)" fill="#141414">40.6</text>
<text transform="translate(465.77 236.67) rotate(0.1) scale(0.875 1)" fill="#141414">45.3</text>
<text transform="translate(484.06 236.67) rotate(0.1) scale(0.875 1)" fill="#141414">50.5</text>
<text transform="translate(502.34 236.67) rotate(0.1) scale(0.875 1)" fill="#141414">58</text>
<text transform="translate(520.62 236.67) rotate(0.1) scale(0.875 1)" fill="#141414">68.4</text>
<text transform="translate(538.91 236.67) rotate(0.1) scale(0.875 1)" fill="#141414">84.6</text>
<text transform="translate(557.19 236.67) rotate(0.1) scale(0.875 1)" fill="#eef4fb">150</text>
<text transform="translate(575.48 236.67) rotate(0.1) scale(0.875 1)" fill="#eef4fb">150</text>
<text transform="translate(593.76 236.67) rotate(0.1) scale(0.875 1)" fill="#eef4fb">150</text>
<text transform="translate(612.05 236.67) rotate(0.1) scale(0.875 1)" fill="#eef4fb">150</text>
<text transform="translate(630.34 236.67) rotate(0.1) scale(0.875 1)" fill="#eef4fb">150</text>
<text transform="translate(648.62 236.67) rotate(0.1) scale(0.875 1)" fill="#eef4fb">150</text>
</g>
<defs><linearGradient id="cb" x1="0" y1="0" x2="0" y2="1"><stop offset="0" stop-color="#3a7cc3"/><stop offset="0.07" stop-color="#4486c8"/><stop offset="0.21" stop-color="#5596d0"/><stop offset="0.35" stop-color="#64a8d6"/><stop offset="0.49" stop-color="#7ab8de"/><stop offset="0.63" stop-color="#96cbe6"/><stop offset="0.77" stop-color="#b2daed"/><stop offset="0.91" stop-color="#d0e8f4"/><stop offset="1" stop-color="#e6f1f8"/></linearGradient></defs>
<rect x="662" y="16.2" width="8.4" height="225.8" fill="url(#cb)" stroke="#444" stroke-opacity="0.6" stroke-width="0.6"/>
<g stroke="#262626" stroke-width="0.5">
<path d="M670.3 32h-2.2"/>
<path d="M670.3 63.65h-2.2"/>
<path d="M670.3 95.3h-2.2"/>
<path d="M670.3 126.95h-2.2"/>
<path d="M670.3 158.6h-2.2"/>
<path d="M670.3 190.25h-2.2"/>
<path d="M670.3 221.9h-2.2"/>
</g>
<g font-size="8.6" fill="#555">
<text transform="translate(673.2 35) rotate(0.1) scale(0.88 1)">140</text>
<text transform="translate(673.2 66.65) rotate(0.1) scale(0.88 1)">120</text>
<text transform="translate(673.2 98.3) rotate(0.1) scale(0.88 1)">100</text>
<text transform="translate(673.2 129.95) rotate(0.1) scale(0.88 1)">80</text>
<text transform="translate(673.2 161.6) rotate(0.1) scale(0.88 1)">60</text>
<text transform="translate(673.2 193.25) rotate(0.1) scale(0.88 1)">40</text>
<text transform="translate(673.2 224.9) rotate(0.1) scale(0.88 1)">20</text>
</g>
<g font-size="8.6" fill="#1e1e1e" text-anchor="end">
<text transform="translate(125.7 27.94) rotate(0.1) scale(0.88 1)">1.00</text>
<text transform="translate(125.7 45.29) rotate(0.1) scale(0.88 1)">0.93</text>
<text transform="translate(125.7 62.64) rotate(0.1) scale(0.88 1)">0.87</text>
<text transform="translate(125.7 79.99) rotate(0.1) scale(0.88 1)">0.80</text>
<text transform="translate(125.7 97.34) rotate(0.1) scale(0.88 1)">0.73</text>
<text transform="translate(125.7 114.69) rotate(0.1) scale(0.88 1)">0.67</text>
<text transform="translate(125.7 132.04) rotate(0.1) scale(0.88 1)">0.60</text>
<text transform="translate(125.7 149.39) rotate(0.1) scale(0.88 1)">0.53</text>
<text transform="translate(125.7 166.74) rotate(0.1) scale(0.88 1)">0.47</text>
<text transform="translate(125.7 184.09) rotate(0.1) scale(0.88 1)">0.40</text>
<text transform="translate(125.7 201.44) rotate(0.1) scale(0.88 1)">0.33</text>
<text transform="translate(125.7 218.79) rotate(0.1) scale(0.88 1)">0.27</text>
<text transform="translate(125.7 236.14) rotate(0.1) scale(0.88 1)">0.20</text>
<text transform="translate(138.82 244.9) rotate(-45) scale(0.92 1)" x="0" y="6.6">0.50</text>
<text transform="translate(157.45 244.9) rotate(-45) scale(0.92 1)" x="0" y="6.6">0.75</text>
<text transform="translate(176.08 244.9) rotate(-45) scale(0.92 1)" x="0" y="6.6">1.00</text>
<text transform="translate(194.71 244.9) rotate(-45) scale(0.92 1)" x="0" y="6.6">1.25</text>
<text transform="translate(213.34 244.9) rotate(-45) scale(0.92 1)" x="0" y="6.6">1.50</text>
<text transform="translate(231.97 244.9) rotate(-45) scale(0.92 1)" x="0" y="6.6">1.75</text>
<text transform="translate(250.6 244.9) rotate(-45) scale(0.92 1)" x="0" y="6.6">2.00</text>
<text transform="translate(269.23 244.9) rotate(-45) scale(0.92 1)" x="0" y="6.6">2.25</text>
<text transform="translate(287.86 244.9) rotate(-45) scale(0.92 1)" x="0" y="6.6">2.50</text>
<text transform="translate(306.49 244.9) rotate(-45) scale(0.92 1)" x="0" y="6.6">2.75</text>
<text transform="translate(325.12 244.9) rotate(-45) scale(0.92 1)" x="0" y="6.6">3.00</text>
<text transform="translate(343.75 244.9) rotate(-45) scale(0.92 1)" x="0" y="6.6">3.25</text>
<text transform="translate(362.38 244.9) rotate(-45) scale(0.92 1)" x="0" y="6.6">3.50</text>
</g>
<g font-size="8.6" fill="#3c3c3c" text-anchor="end">
<text transform="translate(417.4 27.77) rotate(0.1) scale(0.88 1)">1.00</text>
<text transform="translate(417.4 45.2) rotate(0.1) scale(0.88 1)">0.93</text>
<text transform="translate(417.4 62.63) rotate(0.1) scale(0.88 1)">0.87</text>
<text transform="translate(417.4 80.06) rotate(0.1) scale(0.88 1)">0.80</text>
<text transform="translate(417.4 97.49) rotate(0.1) scale(0.88 1)">0.73</text>
<text transform="translate(417.4 114.92) rotate(0.1) scale(0.88 1)">0.67</text>
<text transform="translate(417.4 132.35) rotate(0.1) scale(0.88 1)">0.60</text>
<text transform="translate(417.4 149.78) rotate(0.1) scale(0.88 1)">0.53</text>
<text transform="translate(417.4 167.21) rotate(0.1) scale(0.88 1)">0.47</text>
<text transform="translate(417.4 184.64) rotate(0.1) scale(0.88 1)">0.40</text>
<text transform="translate(417.4 202.07) rotate(0.1) scale(0.88 1)">0.33</text>
<text transform="translate(417.4 219.5) rotate(0.1) scale(0.88 1)">0.27</text>
<text transform="translate(417.4 236.93) rotate(0.1) scale(0.88 1)">0.20</text>
<text transform="translate(430.5 246) rotate(-45) scale(0.92 1)" x="0" y="6.6">0.50</text>
<text transform="translate(448.72 246) rotate(-45) scale(0.92 1)" x="0" y="6.6">0.75</text>
<text transform="translate(466.95 246) rotate(-45) scale(0.92 1)" x="0" y="6.6">1.00</text>
<text transform="translate(485.18 246) rotate(-45) scale(0.92 1)" x="0" y="6.6">1.25</text>
<text transform="translate(503.41 246) rotate(-45) scale(0.92 1)" x="0" y="6.6">1.50</text>
<text transform="translate(521.63 246) rotate(-45) scale(0.92 1)" x="0" y="6.6">1.75</text>
<text transform="translate(539.86 246) rotate(-45) scale(0.92 1)" x="0" y="6.6">2.00</text>
<text transform="translate(558.09 246) rotate(-45) scale(0.92 1)" x="0" y="6.6">2.25</text>
<text transform="translate(576.31 246) rotate(-45) scale(0.92 1)" x="0" y="6.6">2.50</text>
<text transform="translate(594.54 246) rotate(-45) scale(0.92 1)" x="0" y="6.6">2.75</text>
<text transform="translate(612.77 246) rotate(-45) scale(0.92 1)" x="0" y="6.6">3.00</text>
<text transform="translate(631 246) rotate(-45) scale(0.92 1)" x="0" y="6.6">3.25</text>
<text transform="translate(649.22 246) rotate(-45) scale(0.92 1)" x="0" y="6.6">3.50</text>
</g>
<text transform="translate(102.2 9.6) rotate(0.1)" font-size="12.8" font-weight="bold" fill="#000">A</text>
<text transform="translate(391.95 9.6) rotate(0.1)" font-size="12.8" font-weight="bold" fill="#000">B</text>
<text x="192.6" y="12.5" font-size="8.7" font-weight="bold" fill="#000" textLength="113.8" lengthAdjust="spacingAndGlyphs">Protocol that Maximizes TTP</text>
<text x="509.7" y="11.8" font-size="8.7" font-weight="bold" fill="#1c1c1c" textLength="58.8" lengthAdjust="spacingAndGlyphs">Maximium TTP</text>
<g font-size="9.15" fill="#000" stroke="#000" stroke-width="0.15">
<text x="1.2" y="112.2">1 = Daily</text>
<text x="1.2" y="123.7">2 = Adaptive</text>
<text x="1.2" y="135.2">3 = Daily+Toxicity</text>
<text x="1.2" y="146.7">4 = Adaptive+Toxicity</text>
</g>
<g font-style="italic" font-size="9" fill="#6a6a6a" text-anchor="middle">
<text x="249.8" y="271" style="font-family:'Liberation Serif','DejaVu Serif',serif">β</text>
<text x="539.3" y="271.8" style="font-family:'Liberation Serif','DejaVu Serif',serif">β</text>
</g>
<g transform="translate(103.4 145.3) rotate(-90)"><text x="0.3" y="0" font-size="8.8" font-style="italic" fill="#6a6a6a" style="font-family:'Liberation Serif','DejaVu Serif',serif">α</text><text x="4.4" y="4.6" font-size="6.5" fill="#2e2e2e">R</text><text x="11.9" y="0.3" font-size="9.6" fill="#2e2e2e">=</text><text x="19.8" y="0" font-size="8.8" font-style="italic" fill="#6a6a6a" style="font-family:'Liberation Serif','DejaVu Serif',serif">cα</text><text x="28.4" y="4.7" font-size="6.5" fill="#2e2e2e">S</text></g>
<g transform="translate(394.9 146) rotate(-90)"><text x="0.3" y="0" font-size="8.8" font-style="italic" fill="#6a6a6a" style="font-family:'Liberation Serif','DejaVu Serif',serif">α</text><text x="4.4" y="4.6" font-size="6.5" fill="#5a5a5a">R</text><text x="11.9" y="0.3" font-size="9.6" fill="#5a5a5a">=</text><text x="19.8" y="0" font-size="8.8" font-style="italic" fill="#6a6a6a" style="font-family:'Liberation Serif','DejaVu Serif',serif">cα</text><text x="28.4" y="4.7" font-size="6.5" fill="#5a5a5a">S</text></g>
</svg>
</body></html>
